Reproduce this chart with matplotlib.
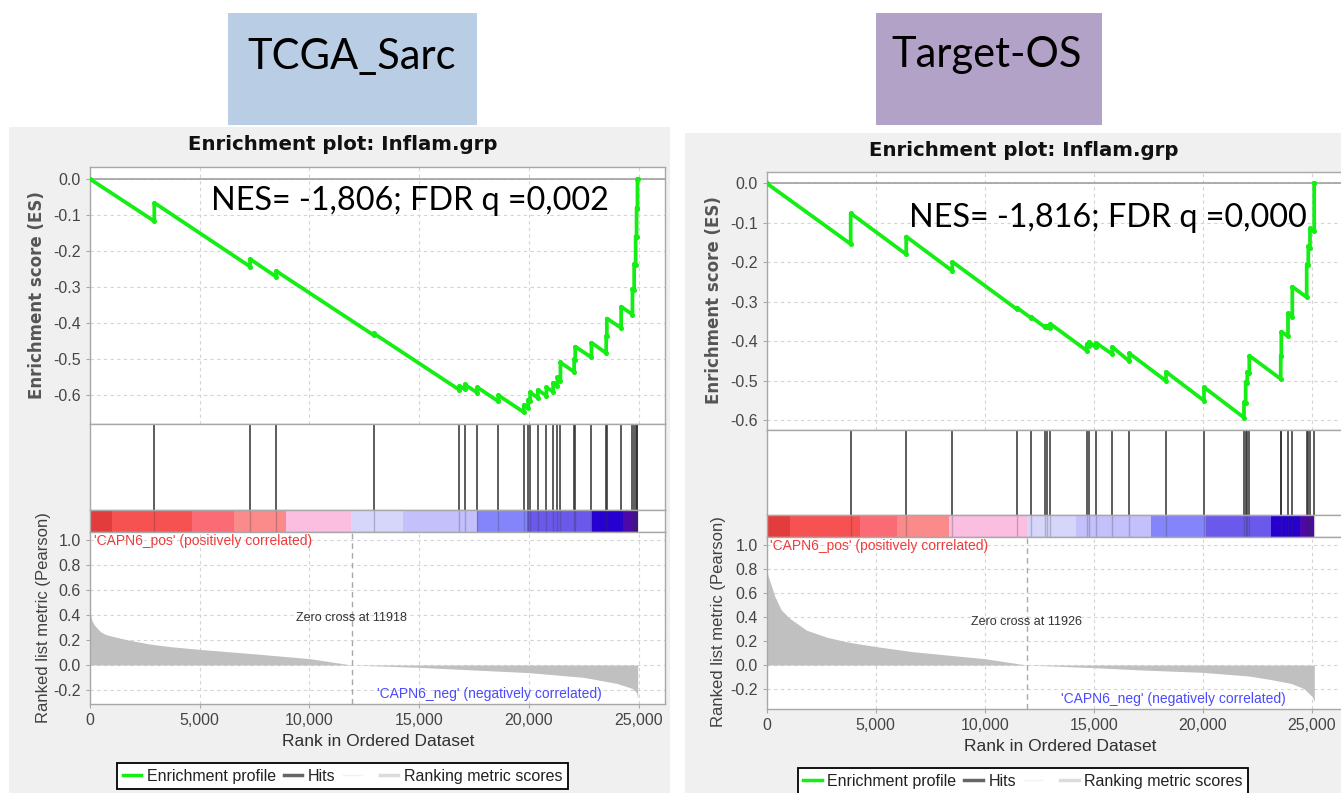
import matplotlib
matplotlib.use("Agg")
import matplotlib.pyplot as plt
from matplotlib.patches import Rectangle
from matplotlib.lines import Line2D
from matplotlib.ticker import FuncFormatter, MultipleLocator

plt.rcParams["font.family"] = ["Liberation Sans", "DejaVu Sans"]
plt.rcParams["axes.unicode_minus"] = False

W, H = 1341, 793

# ---------------- TCGA_Sarc ----------------
sarc_title = "TCGA_Sarc"
sarc_stats = "NES= -1,806; FDR q =0,002"
sarc_n_genes = 24955
sarc_zero_cross = 11918
sarc_hit_rank = [2931, 7293, 8478, 12920, 16832, 17078, 17653, 18610, 19767, 19964,
                 20055, 20406, 20798, 21103, 21299, 21436, 22060, 22110, 22849, 23520,
                 23551, 24202, 24717, 24795, 24863, 24905, 24945]
sarc_es_before = [-0.117, -0.243, -0.271, -0.433, -0.585, -0.583, -0.593, -0.617, -0.647, -0.635,
                  -0.616, -0.607, -0.601, -0.590, -0.573, -0.561, -0.535, -0.502, -0.495, -0.483,
                  -0.436, -0.413, -0.376, -0.308, -0.238, -0.162, -0.082]
sarc_es_after = [-0.066, -0.222, -0.255, -0.428, -0.574, -0.570, -0.578, -0.600, -0.627, -0.612,
                 -0.592, -0.585, -0.578, -0.565, -0.550, -0.509, -0.500, -0.465, -0.454, -0.435,
                 -0.387, -0.354, -0.305, -0.235, -0.160, -0.080, 0.000]
sarc_metric_rank = [0, 30, 100, 200, 300, 475, 700, 962, 1741, 2716, 3650, 5000, 7585, 10000,
                    11918, 15000, 17500, 20000, 22500, 24000, 24700, 24900, 24955]
sarc_metric_value = [0.44, 0.40, 0.35, 0.32, 0.30, 0.267, 0.245, 0.232, 0.20, 0.168, 0.147, 0.125,
                     0.088, 0.051, 0.0, -0.019, -0.04, -0.061, -0.099, -0.147, -0.187, -0.22, -0.27]
sarc_band_edges = [0, 1000, 4663, 6572, 8948, 11870, 14266, 17653, 19904, 22894, 24307, 24955]

# ---------------- Target-OS ----------------
os_title = "Target-OS"
os_stats = "NES= -1,816; FDR q =0,000"
os_n_genes = 25120
os_zero_cross = 11926
os_hit_rank = [3853, 6400, 8514, 11472, 12115, 12771, 12849, 13005, 14679, 14784,
               15092, 15853, 16633, 18317, 20060, 21894, 21972, 22046, 22138, 23580,
               23606, 23913, 24110, 24771, 24844, 24922, 25115]
os_es_before = [-0.154, -0.180, -0.222, -0.319, -0.341, -0.365, -0.364, -0.367, -0.424, -0.412,
                -0.416, -0.433, -0.451, -0.501, -0.551, -0.594, -0.558, -0.506, -0.482, -0.496,
                -0.438, -0.388, -0.338, -0.289, -0.208, -0.163, -0.122]
os_es_after = [-0.076, -0.135, -0.199, -0.315, -0.338, -0.361, -0.361, -0.356, -0.408, -0.402,
               -0.404, -0.415, -0.431, -0.478, -0.517, -0.555, -0.503, -0.478, -0.437, -0.437,
               -0.376, -0.330, -0.262, -0.205, -0.160, -0.114, 0.000]
os_metric_rank = [0, 50, 179, 376, 665, 1050, 1826, 2793, 3757, 5000, 6660, 8399, 10000,
                  11926, 15000, 17293, 20000, 22128, 23096, 24063, 24642, 25032, 25120]
os_metric_value = [0.82, 0.75, 0.68, 0.57, 0.46, 0.39, 0.29, 0.23, 0.19, 0.154, 0.112, 0.081,
                   0.053, 0.0, -0.022, -0.042, -0.061, -0.092, -0.12, -0.154, -0.196, -0.265, -0.307]
os_band_edges = [0, 1090, 4300, 5980, 8340, 11940, 14190, 17615, 20137, 23133, 24463, 25120]

band_colors = ["#e33c3c", "#f75252", "#fb6b75", "#fb8a8a", "#fbbde0", "#d6d6fb",
               "#c3c0fb", "#8585fb", "#6b59ec", "#2600d0", "#4c08a8"]

ES_GREEN = "#14ee14"
GRID = dict(color="#d4d4d4", linestyle=(0, (3, 3)), linewidth=0.8)
SPINE = "#a8a8a8"
TICK_TXT = "#454545"

fig = plt.figure(figsize=(W / 100, H / 100), dpi=100)
fig.patch.set_facecolor("white")


def px_axes(x0, y0, x1, y1):
    return fig.add_axes([x0 / W, 1 - y1 / H, (x1 - x0) / W, (y1 - y0) / H])


def fig_rect(x0, y0, x1, y1, color):
    fig.patches.append(Rectangle((x0 / W, 1 - y1 / H), (x1 - x0) / W, (y1 - y0) / H,
                                 transform=fig.transFigure, facecolor=color,
                                 edgecolor="none", zorder=-5))


def fig_text(x, y, s, **kw):
    fig.text(x / W, 1 - y / H, s, **kw)


def style_axes(ax):
    for sp in ax.spines.values():
        sp.set_color(SPINE)
        sp.set_linewidth(1.0)
    ax.tick_params(colors=SPINE, labelcolor=TICK_TXT, length=3, width=0.8)


def draw_panel(lay, title, stats, n_genes, zero_cross, hit_rank, es_before, es_after,
               metric_rank, metric_value, band_edges):
    x0, x1 = lay["x"]
    fig_rect(*lay["panel"], "#f0f0f0")
    bx0, by0, bx1, by1 = lay["box"]
    fig_rect(bx0, by0, bx1, by1, lay["box_color"])
    fig_text(lay["box_text"][0], lay["box_text"][1], title, family="Lato",
             fontsize=30, ha="center", va="center", color="black")

    # enrichment profile
    ax = px_axes(x0, lay["es"][0], x1, lay["es"][1])
    ax.set_facecolor("white")
    xs, ys = [0], [0.0]
    for r, b, a in zip(hit_rank, es_before, es_after):
        xs += [r, r]
        ys += [b, a]
    xs.append(n_genes)
    ys.append(0.0)
    ax.axhline(0, color="#a0a0a0", lw=1.2, zorder=1)
    ax.plot(xs, ys, color=ES_GREEN, lw=2.7, marker="o", ms=2.6, zorder=3)
    ax.set_xlim(0, lay["xmax"])
    ax.set_ylim(*lay["es_lim"])
    ax.xaxis.set_major_locator(MultipleLocator(5000))
    ax.yaxis.set_major_locator(MultipleLocator(0.1))
    ax.yaxis.set_major_formatter(FuncFormatter(lambda v, p: f"{v:.1f}"))
    ax.grid(True, **GRID)
    ax.set_axisbelow(True)
    style_axes(ax)
    ax.tick_params(axis="x", length=0, labelbottom=False)
    ax.tick_params(axis="y", labelsize=11.5)
    fig_text(lay["es_lab"][0], lay["es_lab"][1], "Enrichment score (ES)", rotation=90,
             family="DejaVu Sans", fontweight="bold", fontsize=12, color="#555555",
             ha="center", va="center")
    fig_text(lay["title"][0], lay["title"][1], "Enrichment plot: Inflam.grp",
             family="DejaVu Sans", fontweight="bold", fontsize=14.2, color="#111111",
             ha="center", va="center")
    fig_text(lay["stats"][0], lay["stats"][1], stats, family="Lato", fontsize=23.3,
             ha="left", va="center", color="black")

    # hits
    axh = px_axes(x0, lay["es"][1], x1, lay["band"][0])
    axh.set_facecolor("white")
    axh.vlines(hit_rank, 0, 1, color="#303030", lw=1.1)
    axh.set_xlim(0, lay["xmax"])
    axh.set_ylim(0, 1)
    axh.set_xticks([])
    axh.set_yticks([])
    style_axes(axh)

    # colour band of the ranked list
    axb = px_axes(x0, lay["band"][0], x1, lay["band"][1])
    axb.set_facecolor("white")
    for i, c in enumerate(band_colors):
        axb.axvspan(band_edges[i], band_edges[i + 1], color=c, lw=0)
    axb.vlines(hit_rank, 0, 1, color="#303030", lw=1.0, alpha=0.25)
    axb.set_xlim(0, lay["xmax"])
    axb.set_ylim(0, 1)
    axb.set_xticks([])
    axb.set_yticks([])
    style_axes(axb)

    # ranked list metric
    axm = px_axes(x0, lay["band"][1], x1, lay["metric_bottom"])
    axm.set_facecolor("white")
    axm.fill_between(metric_rank, 0, metric_value, color="#c0c0c0", lw=0, zorder=2)
    axm.axvline(zero_cross, color="#a8a8a8", lw=1.0, ls=(0, (4, 3)), zorder=3)
    axm.text(zero_cross, lay["zero_y"], f"Zero cross at {zero_cross}", ha="center",
             va="center", fontsize=9, color="#333333")
    axm.text(lay["pos_x"], 0.994, "'CAPN6_pos' (positively correlated)", ha="left",
             va="center", fontsize=10, color="#f03c3c")
    axm.text(lay["neg_x"], lay["neg_y"], "'CAPN6_neg' (negatively correlated)", ha="right",
             va="center", fontsize=10, color="#4a4aff")
    axm.set_xlim(0, lay["xmax"])
    axm.set_ylim(*lay["metric_lim"])
    axm.xaxis.set_major_locator(MultipleLocator(5000))
    axm.xaxis.set_major_formatter(FuncFormatter(lambda v, p: f"{int(v):,}"))
    axm.yaxis.set_major_locator(MultipleLocator(0.2))
    axm.yaxis.set_major_formatter(FuncFormatter(lambda v, p: f"{v:.1f}"))
    axm.grid(True, **GRID)
    axm.set_axisbelow(True)
    style_axes(axm)
    axm.tick_params(labelsize=11.5)
    fig_text(lay["m_lab"][0], lay["m_lab"][1], "Ranked list metric (Pearson)", rotation=90,
             fontsize=12, color="#404040", ha="center", va="center")
    fig_text(lay["x_lab"][0], lay["x_lab"][1], "Rank in Ordered Dataset", fontsize=12.5,
             color="#303030", ha="center", va="center")

    handles = [Line2D([], [], color=ES_GREEN, lw=2.5),
               Line2D([], [], color="#666666", lw=2.5),
               Line2D([], [], color="#f2f2f2", lw=1.0),
               Line2D([], [], color="#dcdcdc", lw=2.5)]
    labels = ["Enrichment profile", "Hits", " ", "Ranking metric scores"]
    leg = fig.legend(handles, labels, loc="upper center",
                     bbox_to_anchor=(lay["legend"][0] / W, 1 - lay["legend"][1] / H),
                     ncol=4, frameon=True, fancybox=False, edgecolor="black",
                     framealpha=1, fontsize=11.5, handlelength=1.15, handletextpad=0.35,
                     columnspacing=0.5, borderpad=0.35, borderaxespad=0)
    leg.get_frame().set_linewidth(1.3)
    for t in leg.get_texts():
        t.set_color("#222222")


sarc_layout = dict(
    x=(90, 665), xmax=26200,
    panel=(9, 127, 670, 800), box=(228, 13, 477, 125), box_color="#b9cde5",
    box_text=(352, 57),
    es=(167, 424), es_lim=(-0.6796, 0.0333),
    band=(510, 532), metric_bottom=704, metric_lim=(-0.312, 1.064),
    es_lab=(37, 295), m_lab=(44, 618), title=(343, 145), stats=(211, 201),
    zero_y=0.376, pos_x=180, neg_x=23336, neg_y=-0.232,
    x_lab=(378, 742), legend=(342.5, 763),
)

os_layout = dict(
    x=(766.7, 1345), xmax=26528,
    panel=(685, 133, 1360, 800), box=(876, 13, 1102, 125), box_color="#b3a2c7",
    box_text=(987, 55),
    es=(171.7, 430), es_lim=(-0.6254, 0.0294),
    band=(515, 537), metric_bottom=708.7, metric_lim=(-0.364, 1.067),
    es_lab=(714, 300), m_lab=(719, 622), title=(1024, 150.7), stats=(908.6, 217.5),
    zero_y=0.358, pos_x=142, neg_x=23821, neg_y=-0.281,
    x_lab=(1060, 746.7), legend=(1023, 768),
)

draw_panel(sarc_layout, sarc_title, sarc_stats, sarc_n_genes, sarc_zero_cross, sarc_hit_rank,
           sarc_es_before, sarc_es_after, sarc_metric_rank, sarc_metric_value, sarc_band_edges)
draw_panel(os_layout, os_title, os_stats, os_n_genes, os_zero_cross, os_hit_rank,
           os_es_before, os_es_after, os_metric_rank, os_metric_value, os_band_edges)

fig.savefig("out.png", dpi=100)
